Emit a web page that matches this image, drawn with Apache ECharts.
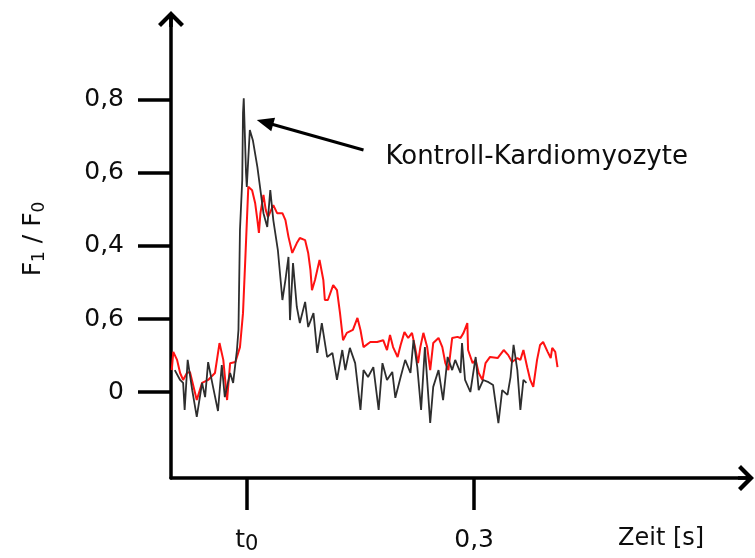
<!DOCTYPE html>
<html>
<head>
<meta charset="utf-8">
<script src="https://cdn.jsdelivr.net/npm/echarts@6/dist/echarts.min.js"></script>
<style>
  html, body { margin: 0; padding: 0; background: #ffffff; }
  #chart { width: 755px; height: 558px; }
</style>
</head>
<body>
<div id="chart"></div>
<script>
const FONT = '"DejaVu Sans", "Liberation Sans", sans-serif';
const INK = '#0d0d0d';

// Fluorescence ratio traces: [time relative to t0 in s, F1/F0]
const redTrace = [
  [-0.099,0.060],[-0.097,0.110],[-0.092,0.088],[-0.088,0.052],[-0.084,0.033],[-0.079,0.052],
  [-0.075,0.055],[-0.066,-0.022],[-0.059,0.025],[-0.051,0.033],[-0.042,0.052],[-0.036,0.134],
  [-0.031,0.088],[-0.026,-0.022],[-0.022,0.079],[-0.015,0.082],[-0.009,0.123],[-0.005,0.216],
  [-0.002,0.362],[0.002,0.562],[0.007,0.553],[0.011,0.518],[0.014,0.471],[0.016,0.436],
  [0.018,0.490],[0.022,0.540],[0.025,0.499],[0.028,0.479],[0.035,0.512],[0.040,0.490],
  [0.047,0.490],[0.051,0.471],[0.055,0.425],[0.060,0.381],[0.066,0.408],[0.070,0.422],
  [0.077,0.416],[0.081,0.381],[0.084,0.334],[0.086,0.279],[0.090,0.307],[0.096,0.362],
  [0.101,0.307],[0.103,0.252],[0.107,0.252],[0.114,0.293],[0.119,0.279],[0.123,0.216],
  [0.127,0.142],[0.132,0.162],[0.140,0.170],[0.146,0.203],[0.150,0.170],[0.154,0.123],
  [0.163,0.137],[0.172,0.137],[0.180,0.142],[0.185,0.115],[0.189,0.156],[0.193,0.123],
  [0.199,0.096],[0.203,0.129],[0.208,0.164],[0.213,0.148],[0.218,0.162],[0.222,0.123],
  [0.226,0.079],[0.229,0.123],[0.233,0.162],[0.238,0.123],[0.242,0.060],[0.246,0.134],
  [0.253,0.148],[0.258,0.123],[0.262,0.079],[0.266,0.060],[0.271,0.148],[0.278,0.151],
  [0.282,0.148],[0.286,0.162],[0.291,0.189],[0.292,0.115],[0.298,0.079],[0.302,0.088],
  [0.306,0.052],[0.311,0.033],[0.315,0.079],[0.321,0.096],[0.331,0.093],[0.339,0.115],
  [0.345,0.101],[0.350,0.082],[0.357,0.093],[0.361,0.088],[0.365,0.115],[0.370,0.068],
  [0.374,0.033],[0.378,0.014],[0.383,0.088],[0.387,0.129],[0.391,0.137],[0.397,0.110],
  [0.401,0.093],[0.403,0.121],[0.407,0.110],[0.410,0.068]
];

const controlTrace = [
  [-0.095,0.060],[-0.088,0.033],[-0.084,0.025],[-0.082,-0.049],[-0.078,0.088],[-0.072,0.005],
  [-0.066,-0.068],[-0.059,0.025],[-0.055,-0.014],[-0.051,0.082],[-0.045,0.019],[-0.038,-0.052],
  [-0.033,0.074],[-0.029,-0.014],[-0.022,0.052],[-0.018,0.025],[-0.013,0.115],[-0.011,0.170],
  [-0.009,0.444],[-0.006,0.581],[-0.005,0.764],[-0.004,0.805],[-0.001,0.600],[0.000,0.562],
  [0.004,0.718],[0.008,0.690],[0.014,0.616],[0.018,0.553],[0.022,0.490],[0.027,0.452],
  [0.031,0.553],[0.035,0.471],[0.041,0.389],[0.047,0.252],[0.051,0.307],[0.055,0.370],
  [0.057,0.197],[0.061,0.353],[0.066,0.233],[0.070,0.189],[0.077,0.247],[0.081,0.178],
  [0.088,0.216],[0.093,0.107],[0.099,0.189],[0.106,0.096],[0.113,0.107],[0.119,0.033],
  [0.126,0.115],[0.130,0.060],[0.136,0.121],[0.143,0.079],[0.150,-0.049],[0.154,0.060],
  [0.160,0.041],[0.167,0.068],[0.174,-0.049],[0.179,0.079],[0.185,0.033],[0.192,0.055],
  [0.196,-0.016],[0.203,0.041],[0.209,0.088],[0.216,0.052],[0.220,0.142],[0.225,0.068],
  [0.230,-0.049],[0.235,0.123],[0.242,-0.085],[0.246,0.014],[0.253,0.060],[0.259,-0.022],
  [0.265,0.096],[0.271,0.060],[0.275,0.088],[0.282,0.052],[0.284,0.134],[0.288,0.033],
  [0.295,0.000],[0.302,0.096],[0.306,0.005],[0.312,0.033],[0.319,0.027],[0.325,0.019],
  [0.332,-0.085],[0.337,0.005],[0.344,-0.008],[0.348,0.041],[0.352,0.129],[0.357,0.060],
  [0.361,-0.049],[0.365,0.033],[0.369,0.025]
];

// Axis ticks and their printed labels
const yTickValues = [0, 0.2, 0.4, 0.6, 0.8];
const yTickLabels = ['0', '0,6', '0,4', '0,6', '0,8'];
const xTickValues = [0, 0.3];
const xTickLabels = ['{t|t}{s|0}', '{n|0,3}'];
const xAxisTitle = 'Zeit [s]';
const yAxisTitle = '{m|F}{s|1}{m| / F}{s|0}';

// Callout pointing at the control peak (data coordinates)
const annotationLabel = 'Kontroll-Kardiomyozyte';
const annotationArrow = [[0.154, 0.663], [0.024, 0.739]];
const annotationTextAt = [0.183, 0.644];

// Open chevron arrowhead with a short stem so it joins the axis line
const CHEVRON = 'path://M13,0 L26,13 L23,16 L14.8,7.8 L14.8,16 L11.2,16 L11.2,7.8 L3,16 L0,13 Z';

const chart = echarts.init(document.getElementById('chart'), null, { renderer: 'canvas' });

function axisStroke() { return { color: '#000000', width: 3.5 }; }

function pickLabel(values, labels) {
  return function (v) {
    const i = values.findIndex(function (t) { return Math.abs(t - v) < 1e-9; });
    return i >= 0 ? labels[i] : '';
  };
}

chart.setOption({
  animation: false,
  backgroundColor: '#ffffff',
  grid: { left: 171, right: 9, top: 19, bottom: 80, containLabel: false, outerBoundsMode: 'none' },
  xAxis: {
    type: 'value',
    min: -0.1,
    max: 0.6587,
    axisLine: { show: true, onZero: false, lineStyle: axisStroke(), symbol: ['none', CHEVRON], symbolSize: [26, 16] },
    axisTick: { show: true, inside: false, length: 32, customValues: xTickValues, lineStyle: axisStroke() },
    axisLabel: {
      show: true,
      customValues: xTickValues,
      margin: 47,
      formatter: pickLabel(xTickValues, xTickLabels),
      rich: {
        t: { fontFamily: FONT, fontSize: 25, color: INK, lineHeight: 30 },
        s: { fontFamily: FONT, fontSize: 21, color: INK, padding: [15, 0, 0, 0], verticalAlign: 'bottom', lineHeight: 30 },
        n: { fontFamily: FONT, fontSize: 25, color: INK, lineHeight: 30 }
      }
    },
    splitLine: { show: false }
  },
  yAxis: {
    type: 'value',
    min: -0.2356,
    max: 1.0219,
    axisLine: { show: true, onZero: false, lineStyle: axisStroke(), symbol: ['none', CHEVRON], symbolSize: [26, 16] },
    axisTick: { show: true, inside: false, length: 33, customValues: yTickValues, lineStyle: axisStroke() },
    axisLabel: {
      show: true,
      customValues: yTickValues,
      margin: 47,
      fontFamily: FONT,
      fontSize: 25,
      color: INK,
      formatter: pickLabel(yTickValues, yTickLabels)
    },
    splitLine: { show: false },
    name: yAxisTitle,
    nameLocation: 'middle',
    nameRotate: 90,
    nameGap: 123,
    nameTextStyle: {
      padding: [0, 0, 0, 19],
      rich: {
        m: { fontFamily: FONT, fontSize: 25, color: INK, lineHeight: 30 },
        s: { fontFamily: FONT, fontSize: 17, color: INK, padding: [12, 0, 0, 0], verticalAlign: 'bottom', lineHeight: 30 }
      }
    }
  },
  series: [
    {
      name: 'red',
      type: 'line',
      data: redTrace,
      symbol: 'none',
      lineStyle: { color: '#ff1212', width: 2 },
      z: 2
    },
    {
      name: 'Kontroll',
      type: 'line',
      data: controlTrace,
      symbol: 'none',
      lineStyle: { color: '#2e2e2e', width: 1.8 },
      z: 3,
      markLine: {
        silent: true,
        animation: false,
        symbol: ['none', 'triangle'],
        symbolSize: [14, 17],
        label: { show: false },
        emphasis: { disabled: true },
        lineStyle: { color: '#000', width: 3, type: 'solid' },
        data: [[{ coord: annotationArrow[0] }, { coord: annotationArrow[1] }]]
      }
    }
  ]
});

const textAt = chart.convertToPixel({ gridIndex: 0 }, annotationTextAt);
chart.setOption({
  graphic: [
    {
      type: 'text',
      x: textAt[0],
      y: textAt[1],
      style: { text: annotationLabel, fontFamily: FONT, fontSize: 26, fill: INK, align: 'left', verticalAlign: 'middle' }
    },
    {
      type: 'text',
      x: 618,
      y: 539,
      style: { text: xAxisTitle, fontFamily: FONT, fontSize: 24, fill: INK, align: 'left', verticalAlign: 'middle' }
    }
  ]
});
</script>
</body>
</html>
